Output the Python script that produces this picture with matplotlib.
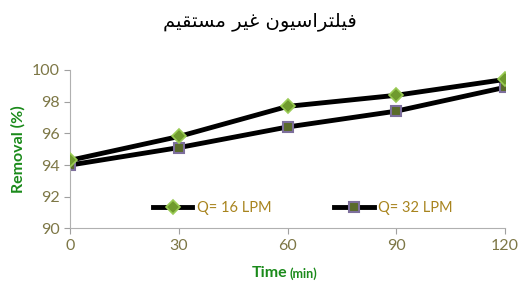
import matplotlib
matplotlib.use("Agg")
import matplotlib.pyplot as plt

plt.rcParams["font.family"] = ["Lato", "DejaVu Sans"]

# data
time_min = [0, 30, 60, 90, 120]
removal_16 = [94.3, 95.8, 97.7, 98.4, 99.4]
removal_32 = [94.0, 95.1, 96.4, 97.4, 98.9]
series_labels = ["Q= 16 LPM", "Q= 32 LPM"]
y_ticks = [90, 92, 94, 96, 98, 100]

# Persian title, pre-shaped into presentation forms (logical order), reversed for display
title_logical = "\ufed3\ufef4\ufee0\ufe98\ufeae\ufe8d\ufeb3\ufef4\ufeee\ufee5 \ufecf\ufef4\ufeae \ufee3\ufeb4\ufe98\ufed8\ufef4\ufee2"
title_text = title_logical[::-1]

TICK_COLOR = "#7d7746"
LEGEND_COLOR = "#a8841e"
GREEN = "#1a8a1a"

fig = plt.figure(figsize=(5.2, 2.82), dpi=100)
ax = fig.add_axes([0.135, 0.19, 0.836, 0.562])

ax.plot(time_min, removal_16, color="black", lw=3.5, marker="D", ms=7,
        mfc="#6f9a2e", mec="#9acb55", mew=1.2, label=series_labels[0], zorder=3)
ax.plot(time_min, removal_32, color="black", lw=3.5, marker="s", ms=7,
        mfc="#5a6b2a", mec="#7d6f9c", mew=1.5, label=series_labels[1], zorder=2)

ax.set_xlim(0, 120)
ax.set_ylim(90, 100)
ax.set_xticks(time_min)
ax.set_yticks(y_ticks)
ax.tick_params(axis="both", colors="#a0a0a0", labelcolor=TICK_COLOR, labelsize=11.5, length=4)
for s in ["top", "right"]:
    ax.spines[s].set_visible(False)
for s in ["left", "bottom"]:
    ax.spines[s].set_color("#b0b0b0")

ax.text(-0.12, 0.5, "Removal (%)", transform=ax.transAxes, rotation=90,
        ha="center", va="center", color=GREEN, fontsize=11.5, fontweight="bold")
ax.text(0.5, -0.28, "Time", transform=ax.transAxes, ha="right", va="center",
        color=GREEN, fontsize=11.5, fontweight="bold")
ax.text(0.505, -0.285, "(min)", transform=ax.transAxes, ha="left", va="center",
        color=GREEN, fontsize=9, fontweight="bold")

leg = ax.legend(loc="center", bbox_to_anchor=(0.535, 0.13), ncol=2, frameon=False,
                fontsize=10.5, handlelength=2.7, columnspacing=4.3, handletextpad=0.3)
for t in leg.get_texts():
    t.set_color(LEGEND_COLOR)

fig.text(0.5, 0.925, title_text, ha="center", va="center", fontsize=14,
         family=["DejaVu Sans"])

fig.savefig("out.png", dpi=100)
